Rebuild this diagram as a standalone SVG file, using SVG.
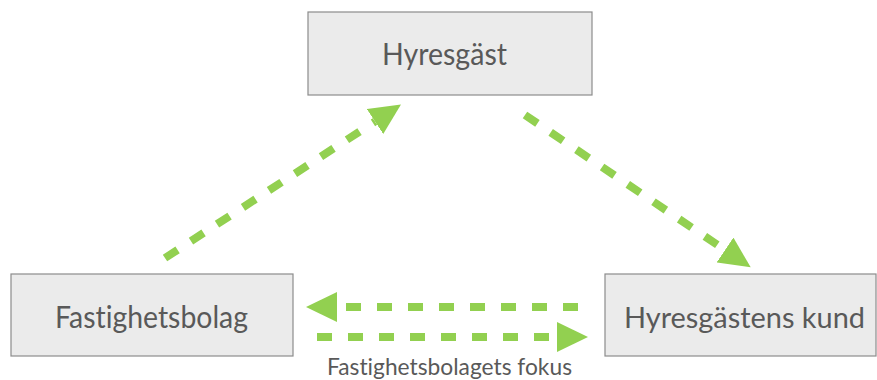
<svg xmlns="http://www.w3.org/2000/svg" width="877" height="380" viewBox="0 0 877 380">
  <style>
    .box { fill: #ebebeb; stroke: #8c8c8c; stroke-width: 1.2; }
    .label { font-family: Lato, "Open Sans", sans-serif; fill: #595959; font-variant-ligatures: none; }
    .big { font-size: 31px; }
    .mid { font-size: 29.5px; }
    .small { font-size: 22.5px; }
    .flow { fill: none; stroke: #92d050; stroke-width: 8; stroke-dasharray: 15 16; marker-end: url(#head); }
  </style>
  <defs>
    <marker id="head" markerUnits="userSpaceOnUse" viewBox="0 -15 31 30" refX="0" refY="0" markerWidth="31" markerHeight="30" orient="auto">
      <path d="M0,-15 L31,0 L0,15 Z" fill="#92d050"/>
    </marker>
  </defs>

  <g id="hyresgast">
    <rect class="box" x="308" y="12" width="284" height="83"/>
    <text class="label big" x="382" y="65" textLength="125" lengthAdjust="spacingAndGlyphs">Hyresgäst</text>
  </g>

  <g id="fastighetsbolag">
    <rect class="box" x="11" y="274" width="282" height="82"/>
    <text class="label big" x="55" y="328" textLength="193" lengthAdjust="spacingAndGlyphs">Fastighetsbolag</text>
  </g>

  <g id="hyresgastens-kund">
    <rect class="box" x="605" y="274" width="271" height="82"/>
    <text class="label mid" x="624" y="328" textLength="241" lengthAdjust="spacingAndGlyphs">Hyresgästens kund</text>
  </g>

  <g id="connectors">
    <line class="flow" x1="165" y1="258" x2="375" y2="121.5"/>
    <line class="flow" x1="525" y1="115" x2="725" y2="250"/>
    <line class="flow" x1="578" y1="307" x2="337" y2="307"/>
    <line class="flow" x1="317" y1="337" x2="557" y2="337"/>
  </g>

  <text id="focus-label" class="label small" x="327" y="375" textLength="245" lengthAdjust="spacingAndGlyphs">Fastighetsbolagets fokus</text>
</svg>
